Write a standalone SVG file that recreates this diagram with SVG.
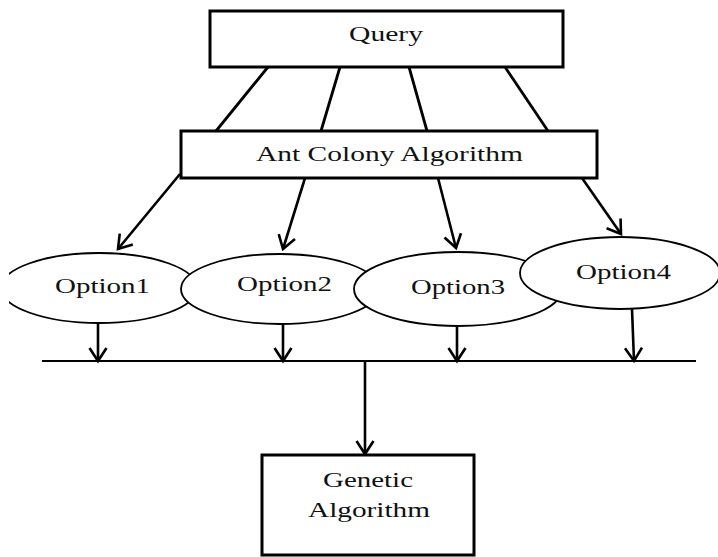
<svg xmlns="http://www.w3.org/2000/svg" width="718" height="557" viewBox="0 0 718 557">
<defs>
<style>
.box{fill:#fff;stroke:#000;stroke-width:3}
.ell{fill:#fff;stroke:#000;stroke-width:1.8}
.ln{fill:none;stroke:#000;stroke-width:2.8}
.arr{fill:none;stroke:#000;stroke-width:2.6;marker-end:url(#ah)}
.bus{fill:none;stroke:#000;stroke-width:2}
.t{font-family:"Liberation Serif","Times New Roman",serif;font-size:22px;fill:#111}
</style>
<marker id="ah" markerUnits="userSpaceOnUse" markerWidth="30" markerHeight="30" refX="15" refY="15" orient="auto" viewBox="0 0 30 30" overflow="visible">
<path d="M2,6.5 L15,15 L2,23.5" fill="none" stroke="#000" stroke-width="2.6"/>
</marker>
<clipPath id="cl"><rect x="9" y="0" width="709" height="557"/></clipPath>
</defs>
<rect width="718" height="557" fill="#fff"/>
<g id="connectors">
<line class="ln" x1="268" y1="67" x2="216" y2="131"/>
<line class="ln" x1="340" y1="67" x2="321" y2="131"/>
<line class="ln" x1="409" y1="67" x2="427" y2="131"/>
<line class="ln" x1="505" y1="67" x2="548" y2="131"/>
<line class="arr" x1="180" y1="174" x2="118" y2="249"/>
<line class="arr" x1="305" y1="178" x2="283" y2="249"/>
<line class="arr" x1="438" y1="178" x2="456" y2="248"/>
<line class="arr" x1="582" y1="178" x2="621" y2="234"/>
<line class="arr" x1="98" y1="323" x2="98" y2="361"/>
<line class="arr" x1="283" y1="324" x2="283" y2="361"/>
<line class="arr" x1="457" y1="326" x2="457" y2="361"/>
<line class="arr" x1="632" y1="309" x2="634" y2="361"/>
<line class="bus" x1="42" y1="361" x2="696" y2="361"/>
<line class="arr" x1="365" y1="361" x2="365" y2="454"/>
</g>
<g id="query">
<rect class="box" x="210" y="11" width="353" height="56"/>
<text class="t" x="349" y="41" textLength="74" lengthAdjust="spacingAndGlyphs">Query</text>
</g>
<g id="ant-colony">
<rect class="box" x="181" y="131" width="416" height="47"/>
<text class="t" x="256" y="161" textLength="267" lengthAdjust="spacingAndGlyphs">Ant Colony Algorithm</text>
</g>
<g id="option1">
<ellipse class="ell" cx="99" cy="288" rx="98" ry="35" clip-path="url(#cl)"/>
<text class="t" x="55" y="293" textLength="95" lengthAdjust="spacingAndGlyphs">Option1</text>
</g>
<g id="option2">
<ellipse class="ell" cx="280" cy="289" rx="99" ry="35"/>
<text class="t" x="237" y="291" textLength="95" lengthAdjust="spacingAndGlyphs">Option2</text>
</g>
<g id="option3">
<ellipse class="ell" cx="458" cy="289" rx="104" ry="37"/>
<text class="t" x="411" y="294" textLength="94" lengthAdjust="spacingAndGlyphs">Option3</text>
</g>
<g id="option4">
<ellipse class="ell" cx="620" cy="273" rx="100" ry="36"/>
<text class="t" x="576" y="279" textLength="95" lengthAdjust="spacingAndGlyphs">Option4</text>
</g>
<g id="genetic">
<rect class="box" x="262" y="455" width="212" height="100"/>
<text class="t" x="323" y="487" textLength="90" lengthAdjust="spacingAndGlyphs">Genetic</text>
<text class="t" x="308" y="517" textLength="122" lengthAdjust="spacingAndGlyphs">Algorithm</text>
</g>
</svg>
